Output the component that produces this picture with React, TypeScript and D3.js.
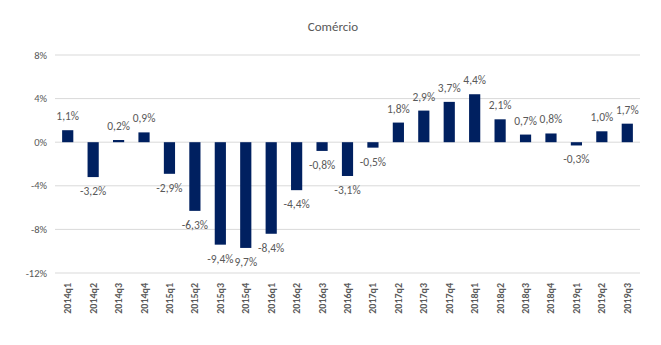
import React from "react";
import * as d3 from "d3";

const categories = ["2014q1","2014q2","2014q3","2014q4","2015q1","2015q2","2015q3","2015q4","2016q1","2016q2","2016q3","2016q4","2017q1","2017q2","2017q3","2017q4","2018q1","2018q2","2018q3","2018q4","2019q1","2019q2","2019q3"];
const values = [1.1,-3.2,0.2,0.9,-2.9,-6.3,-9.4,-9.7,-8.4,-4.4,-0.8,-3.1,-0.5,1.8,2.9,3.7,4.4,2.1,0.7,0.8,-0.3,1.0,1.7];
const labels = ["1,1%","-3,2%","0,2%","0,9%","-2,9%","-6,3%","-9,4%","9,7%","-8,4%","-4,4%","-0,8%","-3,1%","-0,5%","1,8%","2,9%","3,7%","4,4%","2,1%","0,7%","0,8%","-0,3%","1,0%","1,7%"];
const yTicks = [8, 4, 0, -4, -8, -12];
const title = "Comércio";

const W = 661, H = 345;
const FONT = "Carlito, 'Liberation Sans Narrow', 'Liberation Sans', sans-serif";

export default function App() {
  const x = d3.scaleBand<string>().domain(categories).range([55, 640]).paddingInner(0.56).paddingOuter(0.28);
  const y = d3.scaleLinear().domain([-12, 8]).range([273, 55]);
  const grey = "#595959";
  return (
    <svg width={W} height={H} style={{ position: "absolute", left: 0, top: 0, background: "#fff" }} fontFamily={FONT}>
      <text x={333} y={31} textAnchor="middle" fontSize={13} fill={grey}>{title}</text>
      {yTicks.map(t => (
        <g key={t}>
          <line x1={55} x2={640} y1={y(t)} y2={y(t)} stroke="#d9d9d9" strokeWidth={1} />
          <text x={47} y={y(t)} dy="0.35em" textAnchor="end" fontSize={10.5} fill={grey}>{t}%</text>
        </g>
      ))}
      {values.map((v, i) => {
        const c = categories[i];
        const bx = x(c)!;
        const top = y(Math.max(0, v));
        const bot = y(Math.min(0, v));
        return (
          <rect key={c} x={bx} y={top} width={x.bandwidth()} height={Math.max(1.5, bot - top)} fill="#002060" />
        );
      })}
      {values.map((v, i) => {
        const c = categories[i];
        const cx = x(c)! + x.bandwidth() / 2;
        const ly = v >= 0 ? y(v) - 10 : y(v) + 18;
        return (
          <text key={c} x={cx} y={ly} textAnchor="middle" fontSize={11.5} fill={grey}>{labels[i]}</text>
        );
      })}
      {categories.map(c => {
        const cx = x(c)! + x.bandwidth() / 2;
        return (
          <text key={c} transform={`translate(${cx + 3.5},283) rotate(-90)`} textAnchor="end" fontSize={10} fontWeight="bold" fill={grey}>{c}</text>
        );
      })}
    </svg>
  );
}
